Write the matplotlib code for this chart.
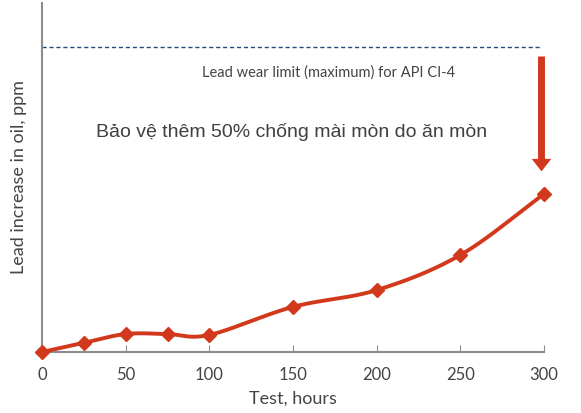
import numpy as np
import matplotlib
matplotlib.use("Agg")
import matplotlib.pyplot as plt

hours = [0, 25, 50, 75, 100, 150, 200, 250, 300]
lead = [0, 3.0, 5.9, 5.9, 5.6, 14.8, 20.3, 31.8, 51.8]
limit = 100
xticks = [0, 50, 100, 150, 200, 250, 300]
red = "#d2391c"

fig = plt.figure(figsize=(5.81, 4.13), dpi=100)
ax = fig.add_axes([42/581, 1-352/413, (544-42)/581, (352-3)/413])
ax.set_xlim(0, 300)
ax.set_ylim(0, 349/3.05)

# smooth curve through points (Catmull-Rom)
x = np.array(hours, float); y = np.array(lead, float)
xs, ys = [], []
for i in range(len(x)-1):
    p0 = (x[i-1], y[i-1]) if i > 0 else (2*x[0]-x[1], 2*y[0]-y[1])
    p1 = (x[i], y[i]); p2 = (x[i+1], y[i+1])
    p3 = (x[i+2], y[i+2]) if i+2 < len(x) else (2*x[-1]-x[-2], 2*y[-1]-y[-2])
    t = np.linspace(0, 1, 30)
    for k, arr in ((0, xs), (1, ys)):
        a0, a1, a2, a3 = p0[k], p1[k], p2[k], p3[k]
        arr.extend(0.5*((2*a1) + (-a0+a2)*t + (2*a0-5*a1+4*a2-a3)*t**2 + (-a0+3*a1-3*a2+a3)*t**3))
ax.plot(xs, ys, color=red, lw=2.8, clip_on=False, zorder=3)
ax.plot(hours, lead, 'D', color=red, ms=7, clip_on=False, zorder=4)

ax.plot([0, 298], [limit, limit], ls=(0, (3, 2)), color="#1f4e79", lw=1)

ax.annotate("", xy=(298.5, 58.3), xytext=(298.5, 97.8),
            arrowprops=dict(arrowstyle="simple,head_width=1.4,head_length=0.9,tail_width=0.5",
                            color=red, lw=0))

ax.text(171.5, 91.5, "Lead wear limit (maximum) for API CI-4", ha="center", va="center",
        fontsize=10.5, color="#444444", family="Lato")
ax.text(149.4, 72, "Bảo vệ thêm 50% chống mài mòn do ăn mòn", ha="center", va="center",
        fontsize=14, color="#404040", family="Liberation Sans")

for s in ("top", "right"):
    ax.spines[s].set_visible(False)
for s in ("left", "bottom"):
    ax.spines[s].set_color("#8c8c8c")
    ax.spines[s].set_linewidth(1.5)
ax.set_yticks([])
ax.set_xticks(xticks)
ax.set_xticklabels([str(v) for v in xticks], family="Lato", fontsize=12, color="#444444")
ax.tick_params(axis="x", direction="in", length=5, color="#8c8c8c", pad=11)
ax.set_xlabel("Test, hours", family="Lato", fontsize=13, color="#444444", labelpad=5)
ax.set_ylabel("Lead increase in oil, ppm", family="Lato", fontsize=13, color="#444444", labelpad=11)

fig.savefig("out.png", dpi=100)
